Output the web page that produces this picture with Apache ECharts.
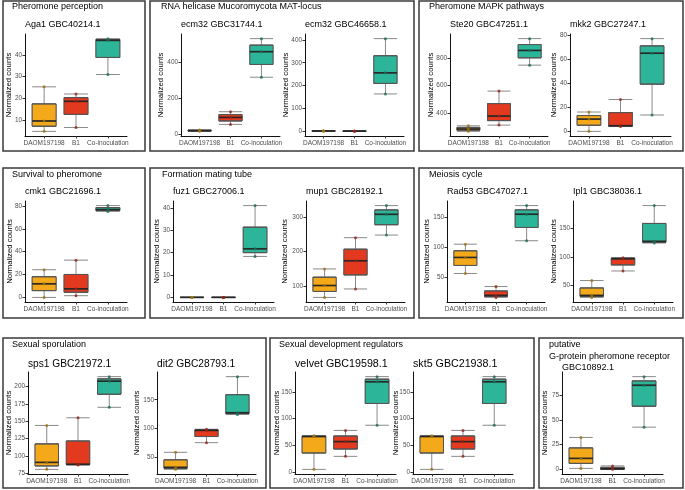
<!DOCTYPE html>
<html><head><meta charset="utf-8">
<script src="https://cdn.jsdelivr.net/npm/echarts@6/dist/echarts.min.js"></script>
<style>html,body{margin:0;padding:0;background:#fff}#c{width:685px;height:490px}</style>
</head><body><div id="c"></div><script>
// ---------- DATA ----------
const groups = ['DAOM197198', 'B1', 'Co-inoculation'];
const groupTitles = ['Pheromone perception', 'RNA helicase Mucoromycota MAT-locus', 'Pheromone MAPK pathways',
  'Survival to pheromone', 'Formation mating tube', 'Meiosis cycle',
  'Sexual sporulation', 'Sexual development regulators', 'putative', 'G-protein pheromone receptor'];
const panelTitles = ['Aga1 GBC40214.1', 'ecm32 GBC31744.1', 'ecm32 GBC46658.1', 'Ste20 GBC47251.1', 'mkk2 GBC27247.1',
  'cmk1 GBC21696.1', 'fuz1 GBC27006.1', 'mup1 GBC28192.1', 'Rad53 GBC47027.1', 'Ipl1 GBC38036.1',
  'sps1 GBC21972.1', 'dit2 GBC28793.1', 'velvet GBC19598.1', 'skt5 GBC21938.1', 'GBC10892.1'];
const yName = 'Normalized counts';

// replicate normalized counts: [DAOM197198], [B1], [Co-inoculation]
const aga1   = [[4.7, 9.5, 25.3], [6.5, 18.6, 22.0], [31.0, 46.8, 47.6]];
const ecm32a = [[14, 18, 22], [53, 92, 124], [317, 460, 533]];
const ecm32b = [[1.5, 2.5, 3.5], [1, 2, 3], [164, 256, 405]];
const ste20  = [[270, 287, 310], [315, 380, 560], [747, 853, 938]];
const mkk2   = [[0, 10.2, 16.1], [4.0, 4.7, 26.5], [13.6, 65, 77.1]];
const cmk1   = [[0, 11.9, 24.2], [1.5, 7.5, 32.6], [75.2, 76.8, 80.3]];
const fuz1   = [[0, 0, 0], [0, 0, 0], [18.3, 21.7, 41.0]];
const mup1   = [[68.8, 102.9, 150.4], [93, 173.8, 240], [247.5, 307, 332]];
const rad53  = [[56.7, 83.3, 105.3], [17, 20.3, 35], [111, 155, 169.3]];
const ipl1   = [[29.5, 33, 59], [75.7, 97, 99], [124.5, 127.5, 190]];
const sps1   = [[81, 91, 144], [87.3, 88.3, 155], [170, 207.5, 214]];
const dit2   = [[29.5, 33, 59], [75.7, 97, 99], [124.5, 127.5, 190]];
const velvet = [[5, 66.5, 68], [29.4, 57, 78], [87.7, 169.2, 178.8]];
const skt5   = [[5, 66.5, 68], [29.4, 57, 78], [87.7, 169.2, 178.8]];
const gpr    = [[1, 11.1, 32.3], [0, 0.5, 3.5], [42.7, 85.1, 93.8]];

// y tick labels per panel
const ticksAga1 = [10, 20, 30, 40];
const ticksEcm32a = [0, 200, 400];
const ticksEcm32b = [0, 100, 200, 300, 400];
const ticksSte20 = [400, 600, 800];
const ticksMkk2 = [0, 20, 40, 60, 80];
const ticksCmk1 = [0, 20, 40, 60, 80];
const ticksFuz1 = [0, 10, 20, 30, 40];
const ticksMup1 = [100, 200, 300];
const ticksRad53 = [50, 100, 150];
const ticksIpl1 = [50, 100, 150];
const ticksSps1 = [75, 100, 125, 150, 175, 200];
const ticksDit2 = [50, 100, 150];
const ticksVelvet = [0, 50, 100, 150];
const ticksSkt5 = [0, 50, 100, 150];
const ticksGpr = [0, 25, 50, 75];

const panelData = [aga1, ecm32a, ecm32b, ste20, mkk2, cmk1, fuz1, mup1, rad53, ipl1, sps1, dit2, velvet, skt5, gpr];
const panelTicks = [ticksAga1, ticksEcm32a, ticksEcm32b, ticksSte20, ticksMkk2, ticksCmk1, ticksFuz1, ticksMup1,
  ticksRad53, ticksIpl1, ticksSps1, ticksDit2, ticksVelvet, ticksSkt5, ticksGpr];

// ---------- LAYOUT / STYLE ----------
const FONT = 'Liberation Sans, Arial, Helvetica, sans-serif';
const grids = [[25, 34, 102, 102], [181, 34, 99, 102], [305, 34, 99, 102], [450, 34, 98, 102], [570, 34, 101, 102],
  [25, 201, 102, 101], [173, 201, 101, 101], [306, 201, 99, 101], [447, 201, 98, 101], [573, 201, 100, 101],
  [28, 372, 100, 102], [157, 372, 99, 102], [295, 372, 101, 102], [413, 372, 100, 102], [562, 372, 101, 102]];
const nameGaps = [12, 16, 15, 15, 12, 11, 12.5, 17, 16, 15, 15, 16, 14, 13, 13];
const titleY = [25, 25, 25, 25, 25, 192, 192, 192, 192, 192, 364, 364, 364, 364, 367.5];
const titleSize = [9, 9, 9, 9, 9, 9, 9, 9, 9, 9, 10.2, 10.2, 10.7, 10.7, 9];
const frames = [[3, 1, 142, 150], [150, 1, 264, 150], [419, 1, 264, 150],
  [3, 168, 142, 150], [150, 168, 264, 150], [419, 168, 264, 150],
  [3, 338, 263, 150], [270, 338, 264, 150], [539, 338, 144, 150]];
const groupTitlePos = [[12, 7], [161, 7], [429, 7], [12, 175], [162, 175], [429, 175], [12, 345], [279, 345], [549, 345], [549, 356.7]];
const fills = ['#F4A91B', '#E2391F', '#2CB598'];
const pointColors = ['#A0700F', '#952314', '#1A6B59'];

function quant(arr, p) { // same rule as R quantile type 7 used by ggplot boxplots
  const s = arr.slice().sort((a, b) => a - b);
  const h = (s.length - 1) * p;
  const lo = Math.floor(h);
  return s[lo] + (h - lo) * ((s[lo + 1] !== undefined ? s[lo + 1] : s[lo]) - s[lo]);
}

const option = {
  animation: false,
  grid: [], xAxis: [], yAxis: [], series: [],
  graphic: { elements: [] }
};

panelData.forEach((pd, i) => {
  const [l, t, w, h] = grids[i];
  option.grid.push({ left: l, top: t, width: w, height: h, containLabel: false, outerBoundsMode: 'none' });
  const all = pd.flat();
  const lo = Math.min(...all), hi = Math.max(...all);
  const pad = (hi - lo) * 0.05;
  option.xAxis.push({
    gridIndex: i, type: 'value', min: 0.4, max: 3.6,
    axisLine: { show: true, onZero: false, lineStyle: { color: '#111', width: 1 } },
    axisTick: { show: true, customValues: [1, 2, 3], length: 2.5, lineStyle: { color: '#333' } },
    axisLabel: { customValues: [1, 2, 3], formatter: v => groups[Math.round(v) - 1], fontSize: 6.5, color: '#4d4d4d', margin: 3.5, fontFamily: FONT },
    splitLine: { show: false }
  });
  // twin (hidden) x axis so the box-only overlay is laid out independently
  option.xAxis.push({ gridIndex: i, type: 'value', min: 0.4, max: 3.6, show: false, splitLine: { show: false } });
  option.yAxis.push({
    gridIndex: i, type: 'value', min: lo - pad, max: hi + pad,
    axisLine: { show: true, onZero: false, lineStyle: { color: '#111', width: 1 } },
    axisTick: { show: true, customValues: panelTicks[i], length: 2.5, lineStyle: { color: '#333' } },
    axisLabel: { customValues: panelTicks[i], fontSize: 6.4, color: '#4d4d4d', margin: 3, fontFamily: FONT },
    splitLine: { show: false },
    name: yName, nameLocation: 'middle', nameGap: nameGaps[i], nameMoveOverlap: false,
    nameTextStyle: { fontSize: 7.8, color: '#000', fontFamily: FONT }
  });
  const bw = 0.75 * w / 3.2;
  const xa = 2 * i, xb = 2 * i + 1;
  // whiskers (grey)
  option.series.push({
    type: 'boxplot', xAxisIndex: xa, yAxisIndex: i, silent: true, z: 2,
    boxWidth: [bw, bw],
    data: pd.map((vals, k) => ({
      value: [k + 1, Math.min(...vals), quant(vals, 0.25), quant(vals, 0.5), quant(vals, 0.75), Math.max(...vals)],
      itemStyle: { color: fills[k], borderColor: '#8a8a8a', borderWidth: 1 }
    }))
  });
  // box body (dark outline)
  option.series.push({
    type: 'boxplot', xAxisIndex: xb, yAxisIndex: i, silent: true, z: 3,
    boxWidth: [bw, bw],
    data: pd.map((vals, k) => ({
      value: [k + 1, quant(vals, 0.25), quant(vals, 0.25), quant(vals, 0.5), quant(vals, 0.75), quant(vals, 0.75)],
      itemStyle: { color: fills[k], borderColor: '#555', borderWidth: 1 }
    }))
  });
  option.series.push({
    type: 'scatter', xAxisIndex: xa, yAxisIndex: i, silent: true, z: 4,
    symbol: 'rect', symbolSize: [bw, 1.7],
    itemStyle: { color: '#1c1c1c' },
    data: pd.map((vals, k) => [k + 1, quant(vals, 0.5)])
  });
  const pts = [];
  pd.forEach((vals, k) => vals.forEach(v => pts.push({ value: [k + 1, v], itemStyle: { color: pointColors[k] } })));
  option.series.push({
    type: 'scatter', xAxisIndex: xa, yAxisIndex: i, silent: true, z: 5,
    symbolSize: 3, data: pts
  });
  option.graphic.elements.push({
    type: 'text', x: l, y: titleY[i], silent: true,
    style: { text: panelTitles[i], fill: '#000', fontSize: titleSize[i], fontFamily: FONT, align: 'left', verticalAlign: 'middle' }
  });
});

frames.forEach(f => option.graphic.elements.push({
  type: 'rect', silent: true, shape: { x: f[0], y: f[1], width: f[2], height: f[3] },
  style: { fill: 'none', stroke: '#3a3a3a', lineWidth: 1.5 }
}));
groupTitles.forEach((g, i) => option.graphic.elements.push({
  type: 'text', x: groupTitlePos[i][0], y: groupTitlePos[i][1], silent: true,
  style: { text: g, fill: '#000', fontSize: 9, fontFamily: FONT, align: 'left', verticalAlign: 'middle' }
}));

const chart = echarts.init(document.getElementById('c'), null, { renderer: 'canvas' });
chart.setOption(option);
</script></body></html>
